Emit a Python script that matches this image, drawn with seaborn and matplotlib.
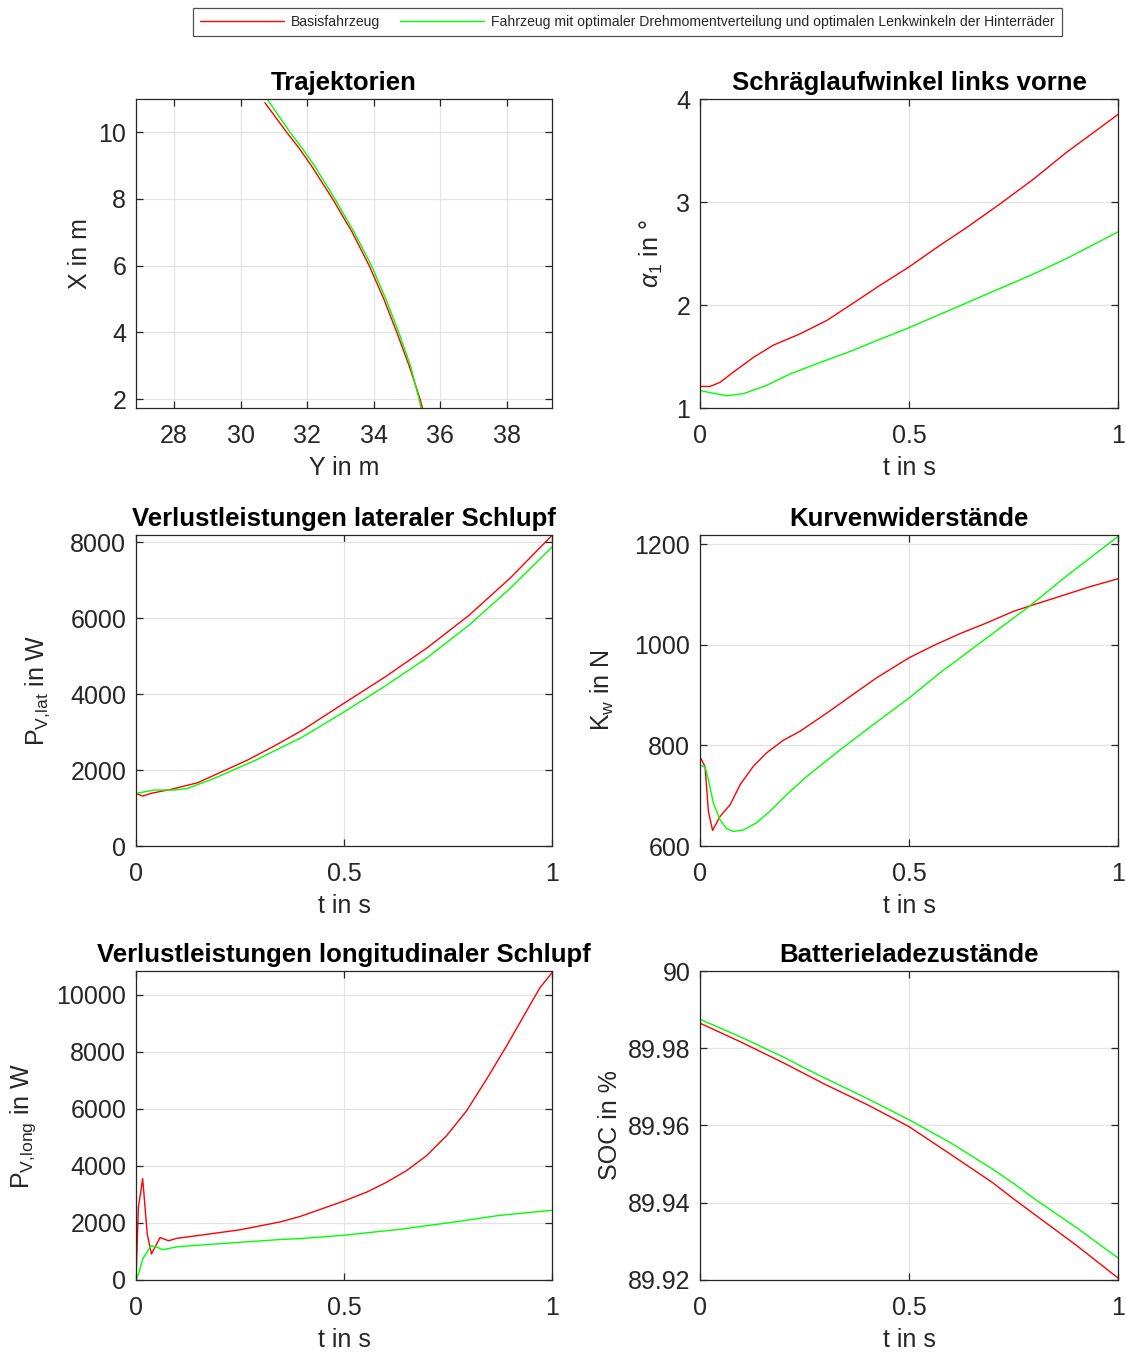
import numpy as np
import pandas as pd
import matplotlib
matplotlib.use("Agg")
import matplotlib.pyplot as plt
import seaborn as sns

# ---------------- data ----------------
legend_labels = ["Basisfahrzeug",
                 "Fahrzeug mit optimaler Drehmomentverteilung und optimalen Lenkwinkeln der Hinterräder"]

# Trajektorien
traj_red_Y = [30.73, 31.38, 31.77, 32.12, 32.76, 33.35, 33.86, 34.30, 34.69, 35.06, 35.39, 35.46]
traj_red_X = [10.88, 10.0, 9.5, 9.0, 8.0, 7.0, 6.0, 5.0, 4.0, 3.0, 2.0, 1.73]
traj_grn_Y = [30.79, 31.48, 31.86, 32.21, 32.83, 33.41, 33.93, 34.36, 34.75, 35.10, 35.36, 35.42]
traj_grn_X = [11.0, 10.0, 9.5, 9.0, 8.0, 7.0, 6.0, 5.0, 4.0, 3.0, 2.0, 1.73]

# Schräglaufwinkel links vorne
alpha_red_t = [0, 0.024, 0.048, 0.08, 0.127, 0.175, 0.239, 0.303, 0.367, 0.43, 0.5, 0.574,
               0.637, 0.717, 0.797, 0.876, 1.0]
alpha_red_v = [1.21, 1.21, 1.25, 1.35, 1.49, 1.61, 1.72, 1.85, 2.02, 2.19, 2.37, 2.58,
               2.75, 2.98, 3.22, 3.48, 3.85]
alpha_grn_t = [0, 0.024, 0.064, 0.104, 0.159, 0.215, 0.279, 0.359, 0.438, 0.5, 0.574, 0.637,
               0.717, 0.797, 0.876, 1.0]
alpha_grn_v = [1.17, 1.15, 1.12, 1.14, 1.22, 1.33, 1.43, 1.55, 1.68, 1.78, 1.91, 2.02,
               2.16, 2.30, 2.45, 2.71]

# Verlustleistungen lateraler Schlupf
lat_red_t = [0, 0.016, 0.036, 0.084, 0.148, 0.268, 0.33, 0.4, 0.5, 0.6, 0.7, 0.8, 0.9, 1.0]
lat_red_v = [1387, 1316, 1387, 1492, 1666, 2263, 2620, 3050, 3760, 4460, 5220, 6070, 7060, 8180]
lat_grn_t = [0, 0.044, 0.092, 0.124, 0.188, 0.288, 0.4, 0.5, 0.6, 0.7, 0.8, 0.9, 1.0]
lat_grn_v = [1387, 1474, 1474, 1518, 1782, 2263, 2870, 3530, 4220, 4960, 5810, 6790, 7870]

# Kurvenwiderstände
kw_red_t = [0, 0.012, 0.02, 0.03, 0.048, 0.072, 0.096, 0.127, 0.159, 0.199, 0.239, 0.303,
            0.359, 0.422, 0.5, 0.558, 0.622, 0.685, 0.749, 0.789, 0.861, 0.932, 1.0]
kw_red_v = [777, 758, 669, 631, 659, 682, 722, 758, 785, 810, 828, 864,
            897, 934, 974, 998, 1022, 1043, 1066, 1077, 1096, 1115, 1131]
kw_grn_t = [0, 0.012, 0.02, 0.032, 0.048, 0.064, 0.08, 0.104, 0.135, 0.167, 0.207, 0.255,
            0.335, 0.414, 0.5, 0.574, 0.669, 0.789, 0.876, 1.0]
kw_grn_v = [760, 758, 732, 685, 652, 634, 629, 632, 646, 669, 702, 738,
            791, 841, 894, 944, 1003, 1077, 1136, 1215]

# Verlustleistungen longitudinaler Schlupf
lon_red_t = [0, 0.0056, 0.016, 0.027, 0.037, 0.058, 0.078, 0.098, 0.15, 0.25, 0.348, 0.395,
             0.5, 0.555, 0.603, 0.651, 0.699, 0.747, 0.795, 0.843, 0.891, 0.939, 0.971, 1.0]
lon_red_v = [0, 2540, 3555, 1610, 910, 1490, 1375, 1460, 1560, 1760, 2040, 2230,
             2770, 3084, 3434, 3842, 4367, 5067, 5941, 7049, 8215, 9439, 10255, 10780]
lon_grn_t = [0, 0.008, 0.016, 0.036, 0.05, 0.064, 0.1, 0.2, 0.348, 0.395, 0.5, 0.635,
             0.755, 0.875, 1.0]
lon_grn_v = [0, 300, 735, 1200, 1150, 1060, 1165, 1270, 1420, 1452, 1569, 1778,
             2012, 2268, 2443]

# Batterieladezustände
soc_t = [0, 0.1, 0.2, 0.25, 0.3, 0.4, 0.5, 0.6, 0.7, 0.75, 0.8, 0.9, 1.0]
soc_red = [89.9865, 89.9815, 89.9762, 89.9734, 89.9706, 89.9654, 89.9597, 89.9525, 89.9452,
           89.941, 89.937, 89.929, 89.9205]
soc_grn = [89.9875, 89.9828, 89.9777, 89.9749, 89.9722, 89.967, 89.9615, 89.9555, 89.9487,
           89.945, 89.941, 89.9336, 89.9257]

# ---------------- style ----------------
sns.set_style("ticks")
plt.rcParams["font.family"] = ["Liberation Sans", "DejaVu Sans"]
plt.rcParams["mathtext.fontset"] = "custom"
plt.rcParams["mathtext.rm"] = "Liberation Sans"
plt.rcParams["mathtext.it"] = "Liberation Sans:italic"
plt.rcParams["mathtext.default"] = "regular"

RED = "#ff0000"
GRN = "#00ff00"
DARK = "#262626"
LW = 1.0

fig = plt.figure(figsize=(11.26, 13.53), dpi=100)

lx, lw_ = 0.1208, 0.3694
rx, rw_ = 0.6217, 0.3712
rows = [(0.6984, 0.2284), (0.3747, 0.2299), (0.0540, 0.2283)]

axes = []
for (b, h) in rows:
    axes.append(fig.add_axes([lx, b, lw_, h]))
    axes.append(fig.add_axes([rx, b, rw_, h]))


def style(ax, title, xlabel, ylabel, ypad=6):
    ax.set_title(title, fontsize=18.5, fontweight="bold", pad=6.5, color="black")
    ax.set_xlabel(xlabel, fontsize=18, color=DARK, labelpad=5.5)
    ax.set_ylabel(ylabel, fontsize=18, color=DARK, labelpad=ypad)
    ax.grid(True, color="#e3e3e3", linewidth=0.9)
    ax.set_axisbelow(True)
    for s in ax.spines.values():
        s.set_color(DARK)
        s.set_linewidth(0.9)
        s.set_visible(True)
    ax.tick_params(direction="in", top=True, right=True, length=5, width=0.9,
                   colors=DARK, labelsize=18, labelcolor=DARK)
    ax.tick_params(axis="x", pad=11.5)
    ax.tick_params(axis="y", pad=7)


def pair(ax, t1, v1, t2, v2, sort=True):
    sns.lineplot(x=t1, y=v1, ax=ax, color=RED, linewidth=LW, sort=sort, estimator=None,
                 label=legend_labels[0])
    sns.lineplot(x=t2, y=v2, ax=ax, color=GRN, linewidth=LW, sort=sort, estimator=None,
                 label=legend_labels[1])
    ax.get_legend().remove()


# Trajektorien
ax = axes[0]
pair(ax, traj_red_Y, traj_red_X, traj_grn_Y, traj_grn_X, sort=False)
ax.set_xlim(26.86, 39.35)
ax.set_ylim(1.73, 10.99)
ax.set_xticks([28, 30, 32, 34, 36, 38])
ax.set_yticks([2, 4, 6, 8, 10])
style(ax, "Trajektorien", "Y in m", "X in m", ypad=4.5)

# Schräglaufwinkel
ax = axes[1]
pair(ax, alpha_red_t, alpha_red_v, alpha_grn_t, alpha_grn_v)
ax.set_xlim(0, 1)
ax.set_ylim(1, 4)
ax.set_yticks([1, 2, 3, 4])
style(ax, "Schräglaufwinkel links vorne", "t in s", r"$\mathit{\alpha}_{1}$ in °", ypad=8)

# lateral
ax = axes[2]
pair(ax, lat_red_t, lat_red_v, lat_grn_t, lat_grn_v)
ax.set_xlim(0, 1)
ax.set_ylim(0, 8190)
ax.set_yticks([0, 2000, 4000, 6000, 8000])
style(ax, "Verlustleistungen lateraler Schlupf", "t in s", r"P$_{V{,}lat}$ in W", ypad=13)

# Kurvenwiderstände
ax = axes[3]
pair(ax, kw_red_t, kw_red_v, kw_grn_t, kw_grn_v)
ax.set_xlim(0, 1)
ax.set_ylim(600, 1218)
ax.set_yticks([600, 800, 1000, 1200])
style(ax, "Kurvenwiderstände", "t in s", r"K$_{w}$ in N", ypad=13)

# longitudinal
ax = axes[4]
pair(ax, lon_red_t, lon_red_v, lon_grn_t, lon_grn_v)
ax.set_xlim(0, 1)
ax.set_ylim(0, 10840)
ax.set_yticks([0, 2000, 4000, 6000, 8000, 10000])
style(ax, "Verlustleistungen longitudinaler Schlupf", "t in s", r"P$_{V{,}long}$ in W", ypad=13)

# SOC
ax = axes[5]
pair(ax, soc_t, soc_red, soc_t, soc_grn)
ax.set_xlim(0, 1)
ax.set_ylim(89.92, 90.0)
ax.set_yticks([89.92, 89.94, 89.96, 89.98, 90.0])
ax.set_yticklabels(["89.92", "89.94", "89.96", "89.98", "90"])
style(ax, "Batterieladezustände", "t in s", "SOC in %", ypad=4)

for ax in axes[1:]:
    ax.set_xticks([0, 0.5, 1])
    ax.set_xticklabels(["0", "0.5", "1"])

handles, labels = axes[1].get_lines()[:2], legend_labels
leg = fig.legend(handles, labels, loc="center", bbox_to_anchor=(627.5 / 1126, 1 - 22 / 1353),
                 ncol=2, fontsize=10.1, frameon=True, fancybox=False, handlelength=6,
                 handletextpad=0.5, columnspacing=1.4, borderpad=0.5)
leg.get_frame().set_edgecolor(DARK)
leg.get_frame().set_linewidth(0.9)

fig.savefig("out.png", dpi=100)
